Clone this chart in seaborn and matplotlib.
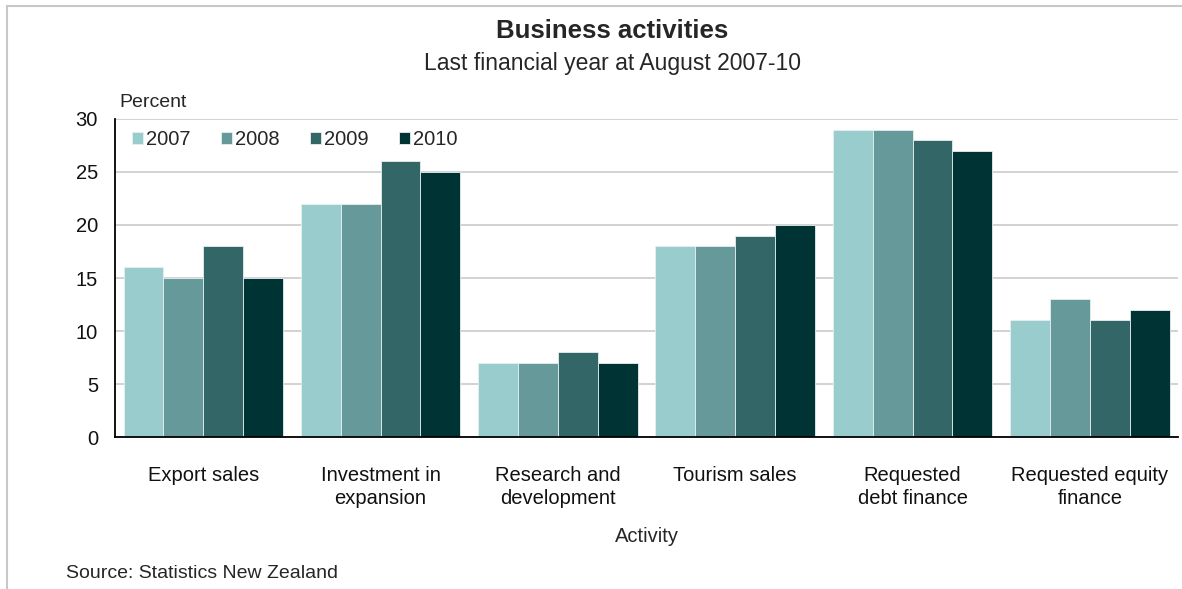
import matplotlib
matplotlib.use("Agg")
import matplotlib.pyplot as plt
import pandas as pd
import seaborn as sns

activities = ["Export sales", "Investment in\nexpansion", "Research and\ndevelopment",
              "Tourism sales", "Requested\ndebt finance", "Requested equity\nfinance"]
years = ["2007", "2008", "2009", "2010"]
pct_2007 = [16, 22, 7, 18, 29, 11]
pct_2008 = [15, 22, 7, 18, 29, 13]
pct_2009 = [18, 26, 8, 19, 28, 11]
pct_2010 = [15, 25, 7, 20, 27, 12]
year_colors = ["#99CCCC", "#669999", "#336666", "#003333"]

rows = []
for year, vals in zip(years, [pct_2007, pct_2008, pct_2009, pct_2010]):
    for act, v in zip(activities, vals):
        rows.append({"Activity": act, "Year": year, "Percent": v})
df = pd.DataFrame(rows)

sns.set_style("white")
plt.rcParams["font.family"] = ["Liberation Sans", "DejaVu Sans"]

fig = plt.figure(figsize=(11.82, 5.89), dpi=100)
ax = fig.add_axes([0.097, 0.258, 0.900, 0.540])

sns.barplot(data=df, x="Activity", y="Percent", hue="Year", order=activities,
            hue_order=years, palette=year_colors, width=0.9, saturation=1,
            edgecolor="#E6F0F0", linewidth=0.6, ax=ax, zorder=3)

ax.set_ylim(0, 30)
ax.set_yticks(range(0, 31, 5))
ax.yaxis.grid(True, color="#CFCFCF", linewidth=1.3, zorder=0)
ax.set_axisbelow(True)
for side in ["top", "right"]:
    ax.spines[side].set_visible(False)
for side in ["left", "bottom"]:
    ax.spines[side].set_color("black")
    ax.spines[side].set_linewidth(1.3)
    ax.spines[side].set_zorder(5)
ax.tick_params(axis="both", length=0, labelsize=14.5, colors="#111111")
ax.tick_params(axis="x", pad=21)
ax.tick_params(axis="y", pad=12)
for lbl in ax.get_xticklabels():
    lbl.set_linespacing(1.25)
ax.set_ylabel("")
ax.set_xlabel("Activity", fontsize=14.5, labelpad=14)

ax.legend(loc="upper left", bbox_to_anchor=(0.006, 1.0), ncol=4, frameon=False,
          fontsize=14.5, handlelength=0.55, handleheight=0.55, handletextpad=0.15,
          columnspacing=1.5, borderaxespad=0.15)

fig.text(0.101, 0.826, "Percent", fontsize=14, ha="left", va="center")
fig.text(0.518, 0.947, "Business activities", fontsize=18.5, fontweight="bold",
         ha="center", va="center")
fig.text(0.518, 0.893, "Last financial year at August 2007-10", fontsize=16.5,
         ha="center", va="center")
fig.text(0.056, 0.027, "Source: Statistics New Zealand", fontsize=14,
         ha="left", va="center")

# thin grey frame around the whole chart area
fig.patches.append(plt.Rectangle((0.006, -0.05), 1.1, 1.04, transform=fig.transFigure,
                                 fill=False, edgecolor="#C8C8C8", linewidth=1.5))

fig.savefig("out.png", dpi=100)
